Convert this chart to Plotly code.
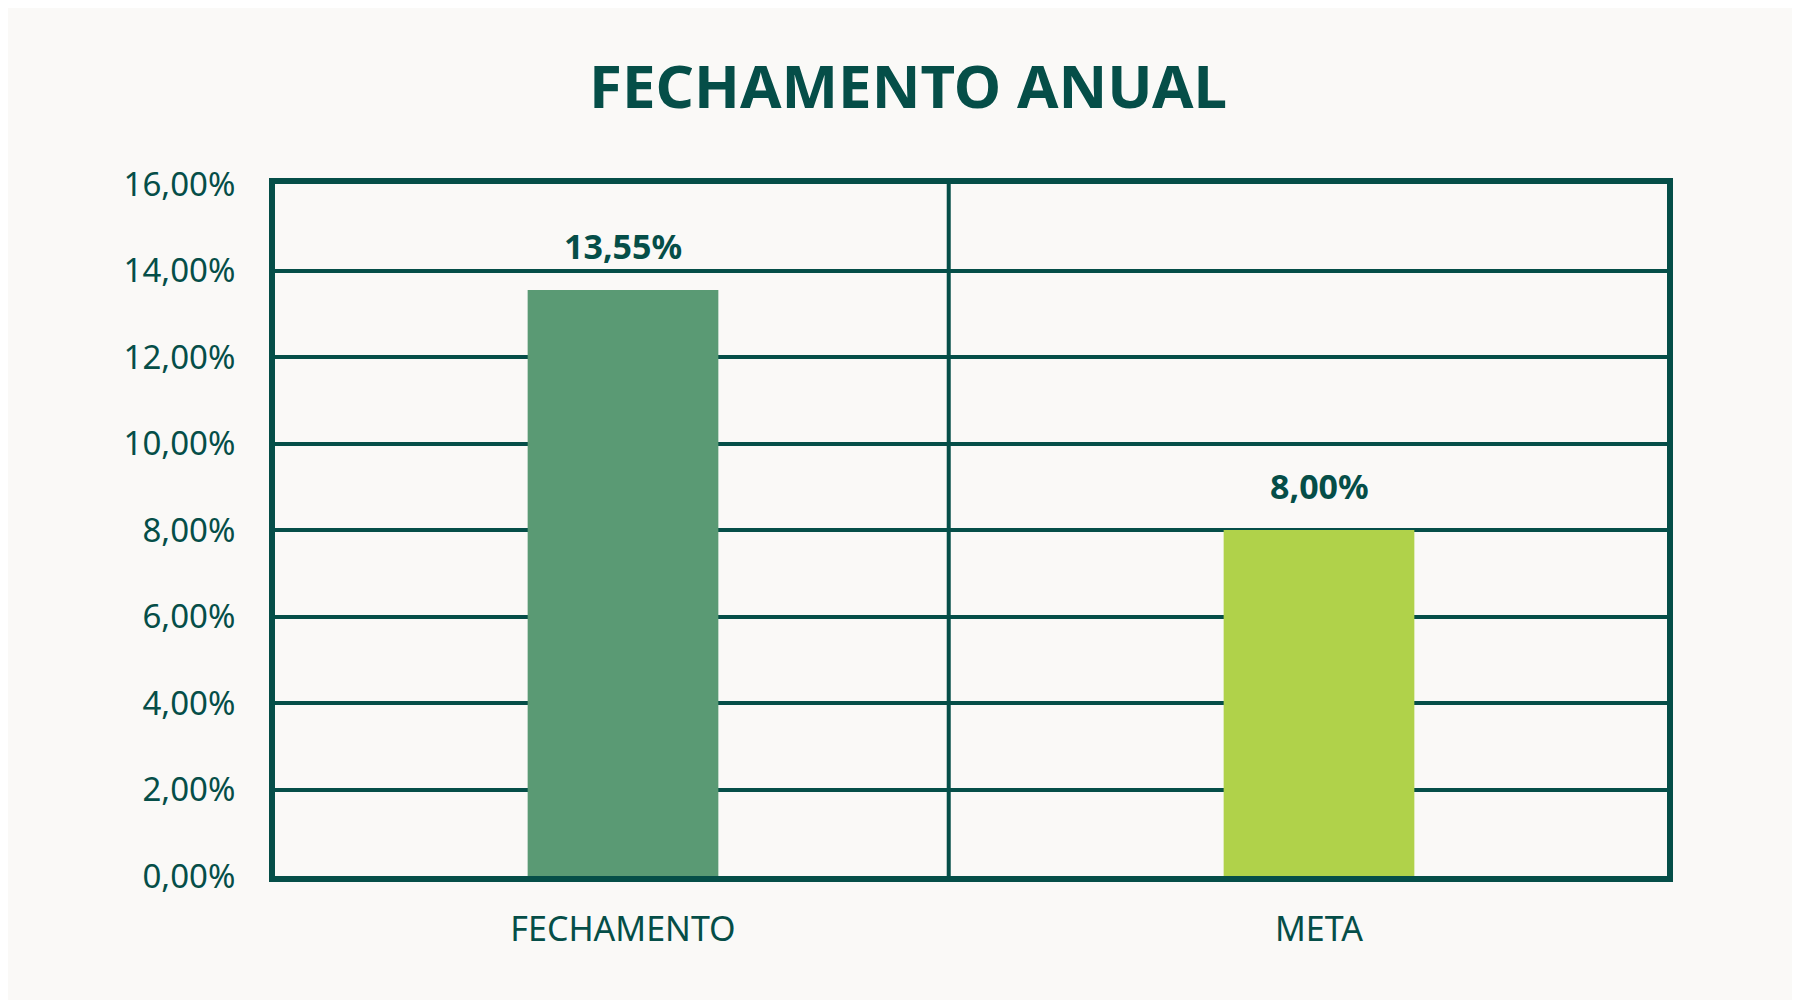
import plotly.graph_objects as go

# dados do gráfico
categorias = ['FECHAMENTO', 'META']
valores = [13.55, 8.00]
rotulos = ['13,55%', '8,00%']
cores = ['#5a9a74', '#b0d24a']
ticks_y = [0, 2, 4, 6, 8, 10, 12, 14, 16]
textos_y = ['%d,00%%' % t for t in ticks_y]

VERDE = '#054e48'
FUNDO = '#faf9f7'
DIVISOR_X = 0.468   # linha vertical entre as categorias

fig = go.Figure(go.Bar(
    x=categorias, y=valores,
    marker=dict(color=cores, line_width=0),
    width=0.274,
    hoverinfo='skip',
))

# rótulos acima das barras
for c, v, t in zip(categorias, valores, rotulos):
    fig.add_annotation(x=c, y=v, text='<b>%s</b>' % t, showarrow=False,
                       yanchor='middle', yshift=44,
                       font=dict(family='Noto Sans', size=34, color=VERDE))

# linha vertical do meio
fig.add_shape(type='line', xref='x', yref='paper', x0=DIVISOR_X, x1=DIVISOR_X,
              y0=0, y1=1, line=dict(color=VERDE, width=4), layer='below')

fig.update_layout(
    width=1800, height=1000,
    paper_bgcolor=FUNDO, plot_bgcolor=FUNDO,
    margin=dict(l=267, r=141, t=176, b=132),
    showlegend=False,
    title=dict(text='<b>FECHAMENTO ANUAL</b>', x=0.5, xanchor='center',
               y=1 - 79 / 1000, yanchor='middle',
               font=dict(family='Noto Sans', size=60, color=VERDE)),
    font=dict(family='Noto Sans', color=VERDE),
)
fig.update_xaxes(range=[-0.5, 1.5], showgrid=False, showline=True, mirror=True,
                 linecolor=VERDE, linewidth=6, ticks='', ticklabelstandoff=18,
                 tickfont=dict(size=34, color=VERDE))
fig.update_yaxes(range=[0, 16], tickvals=ticks_y, ticktext=textos_y,
                 showgrid=True, gridcolor=VERDE, gridwidth=4, zeroline=False,
                 showline=True, mirror=True, linecolor=VERDE, linewidth=6,
                 ticks='', ticklabelstandoff=27,
                 tickfont=dict(size=33, color=VERDE))

fig.write_html('out.html')
